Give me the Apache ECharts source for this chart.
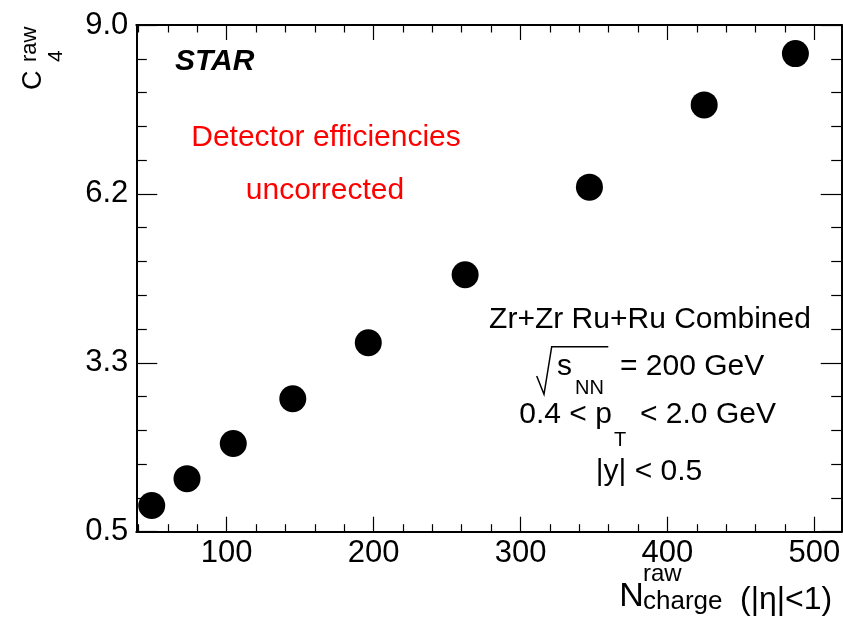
<!DOCTYPE html>
<html>
<head>
<meta charset="utf-8">
<script src="https://cdn.jsdelivr.net/npm/echarts@6/dist/echarts.min.js"></script>
<style>
  html, body { margin: 0; padding: 0; background: #fff; }
  #chart { width: 843px; height: 625px; }
</style>
</head>
<body>
<div id="chart"></div>
<script>
// data
const nCharge = [49.0, 73.0, 104.5, 145.0, 196.4, 262.3, 346.9, 425.0, 487.1];
const c4Raw = [0.94, 1.39, 1.98, 2.73, 3.67, 4.81, 6.28, 7.66, 8.52];

// axis ranges and ticks (ROOT style frame)
const xMin = 38.5, xMax = 518.6;
const yMin = 0.5, yMax = 9.0;
const xMajorTicks = [100, 200, 300, 400, 500];
const xMinorTicks = [40, 60, 80, 120, 140, 160, 180, 220, 240, 260, 280, 320, 340, 360, 380, 420, 440, 460, 480];
const yMajorTicks = [0.5, 3.3333, 6.1667, 9.0];
const yMinorTicks = [1.0667, 1.6333, 2.2, 2.7667, 3.9, 4.4667, 5.0333, 5.6, 6.7333, 7.3, 7.8667, 8.4333];

const font = '"Liberation Sans", Arial, Helvetica, sans-serif';
const frameLine = { show: true, lineStyle: { color: '#000', width: 2 } };
const tickStyle = { color: '#000', width: 1.2 };

function makeAxis(position, min, max, ticks, tickLen, withLine, labels, labelMargin, fmt) {
  return {
    type: 'value',
    position: position,
    min: min,
    max: max,
    axisLine: withLine ? frameLine : { show: false },
    axisTick: { show: true, inside: true, length: tickLen, customValues: ticks, lineStyle: tickStyle },
    axisLabel: labels
      ? { show: true, customValues: ticks, fontSize: 31, color: '#000', fontFamily: font, margin: labelMargin, formatter: fmt }
      : { show: false },
    splitLine: { show: false },
  };
}

// text helper for annotations
function txt(text, x, y, size, opts) {
  opts = opts || {};
  const align = opts.align || 'left';
  return {
    type: 'text',
    x: x,
    y: y,
    rotation: opts.rotation || 0,
    silent: true,
    style: {
      text: text,
      fontSize: size,
      fontFamily: font,
      fontWeight: opts.weight || 'normal',
      fontStyle: opts.style || 'normal',
      fill: opts.color || '#000',
      align: align,
      textAlign: align,
      verticalAlign: 'middle',
      textVerticalAlign: 'middle',
    },
  };
}

const chart = echarts.init(document.getElementById('chart'), null, { renderer: 'canvas' });

const option = {
  animation: false,
  backgroundColor: '#fff',
  grid: { left: 136.3, right: 1.3, top: 25, bottom: 93.3, containLabel: false, outerBoundsMode: 'none' },
  xAxis: [
    makeAxis('bottom', xMin, xMax, xMajorTicks, 15, true, true, 6, (v) => String(Math.round(v))),
    makeAxis('bottom', xMin, xMax, xMinorTicks, 7.5, false, false),
    makeAxis('top', xMin, xMax, xMajorTicks, 15, true, false),
    makeAxis('top', xMin, xMax, xMinorTicks, 7.5, false, false),
  ],
  yAxis: [
    makeAxis('left', yMin, yMax, yMajorTicks, 21, true, true, 8, (v) => v.toFixed(1)),
    makeAxis('left', yMin, yMax, yMinorTicks, 10.5, false, false),
    makeAxis('right', yMin, yMax, yMajorTicks, 21, true, false),
    makeAxis('right', yMin, yMax, yMinorTicks, 10.5, false, false),
  ],
  series: [
    {
      type: 'scatter',
      xAxisIndex: 0,
      yAxisIndex: 0,
      symbol: 'circle',
      symbolSize: 27,
      itemStyle: { color: '#000', opacity: 1 },
      silent: true,
      data: nCharge.map((n, i) => [n, c4Raw[i]]),
    },
  ],
  graphic: [
    // STAR
    txt('STAR', 175, 62, 30, { weight: 'bold', style: 'italic' }),
    // red note
    txt('Detector efficiencies', 326, 137.3, 30, { align: 'center', color: '#ff0000' }),
    txt('uncorrected', 325, 190.7, 30, { align: 'center', color: '#ff0000' }),
    // conditions box
    txt('Zr+Zr Ru+Ru Combined', 650, 320, 30, { align: 'center' }),
    {
      type: 'polyline',
      silent: true,
      shape: { points: [[536.7, 376], [544, 394.3], [551.7, 346.7], [608.3, 346.7]] },
      style: { stroke: '#000', fill: null, lineWidth: 1.5 },
    },
    txt('s', 557, 366.7, 30),
    txt('NN', 575, 388.4, 20),
    txt('= 200 GeV', 620, 366.7, 30),
    txt('0.4 < p', 519.3, 414.3, 30),
    txt('T', 614, 440.4, 20),
    txt('< 2.0 GeV', 640, 414.3, 30),
    txt('|y| < 0.5', 649, 471.7, 30, { align: 'center' }),
    // x title
    txt('N', 619.3, 596.4, 34),
    txt('raw', 643, 574, 24),
    txt('charge', 643, 602, 26),
    txt('(|\u03b7|<1)', 740, 600, 32),
    // y title (rotated)
    txt('C', 34, 90, 27, { rotation: Math.PI / 2 }),
    txt('4', 56, 62, 21, { rotation: Math.PI / 2 }),
    txt('raw', 30, 62, 22, { rotation: Math.PI / 2 }),
  ],
};

chart.setOption(option);
</script>
</body>
</html>
